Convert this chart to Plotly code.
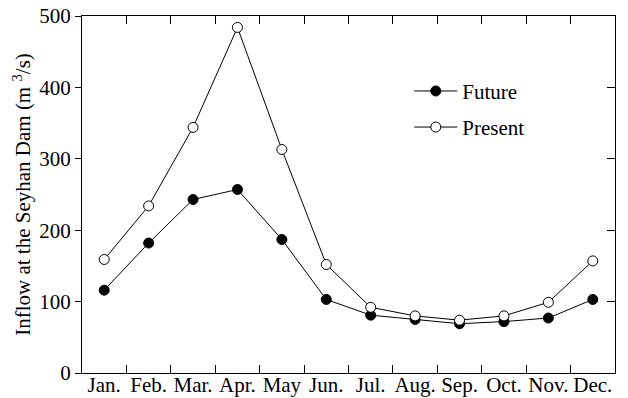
import plotly.graph_objects as go

months = ["Jan.", "Feb.", "Mar.", "Apr.", "May", "Jun.", "Jul.", "Aug.", "Sep.", "Oct.", "Nov.", "Dec."]
future = [116, 182, 243, 257, 187, 103, 81, 75, 69, 72, 77, 103]
present = [159, 234, 344, 484, 313, 152, 92, 80, 74, 80, 99, 157]
y_ticks = [0, 100, 200, 300, 400, 500]

FONT = "Liberation Serif, Times New Roman, serif"
FS = 21

fig = go.Figure()
fig.add_trace(go.Scatter(
    x=months, y=future, name="Future", mode="lines+markers", legend="legend",
    line=dict(color="black", width=1),
    marker=dict(symbol="circle", size=10, color="black", line=dict(color="black", width=1)),
))
fig.add_trace(go.Scatter(
    x=months, y=present, name="Present", mode="lines+markers", legend="legend2",
    line=dict(color="black", width=1),
    marker=dict(symbol="circle", size=10, color="white", line=dict(color="black", width=1)),
))
# invisible trace to anchor the right-side axis
fig.add_trace(go.Scatter(x=months, y=present, yaxis="y2", showlegend=False,
                         mode="lines", line=dict(width=0), hoverinfo="skip", opacity=0))

leg_common = dict(xanchor="left", yanchor="middle", bgcolor="rgba(0,0,0,0)",
                  font=dict(family=FONT, size=FS), borderwidth=0, itemwidth=43)

fig.update_layout(
    width=628, height=398,
    margin=dict(l=82, r=13, t=16, b=25),
    plot_bgcolor="white", paper_bgcolor="white",
    font=dict(family=FONT, size=FS, color="black"),
    showlegend=True,
    legend=dict(x=0.614, y=0.789, **leg_common),
    legend2=dict(x=0.614, y=0.688, **leg_common),
    xaxis=dict(
        type="category", categoryorder="array", categoryarray=months,
        range=[-0.5, 11.5], tickson="boundaries", tickangle=0,
        ticks="inside", ticklen=8, tickwidth=1, tickcolor="black",
        showline=True, linecolor="black", linewidth=1, mirror="ticks",
        showgrid=False, zeroline=False, automargin=False,
        ticklabelstandoff=-7,
        tickfont=dict(family=FONT, size=FS),
    ),
    yaxis=dict(
        range=[0, 500], tickvals=y_ticks, ticktext=[str(v) for v in y_ticks],
        ticks="outside", ticklen=6, tickwidth=1, tickcolor="black",
        showline=True, linecolor="black", linewidth=1, mirror=True,
        showgrid=False, zeroline=False, automargin=False,
        tickfont=dict(family=FONT, size=FS),
        title=dict(text="Inflow at the Seyhan Dam (m <sup>3</sup>/s)",
                   font=dict(family=FONT, size=FS), standoff=2),
    ),
    yaxis2=dict(
        range=[0, 500], tickvals=y_ticks, overlaying="y", side="right",
        ticks="inside", ticklen=8, tickwidth=1, tickcolor="black",
        showticklabels=False, showgrid=False, zeroline=False,
        showline=True, linecolor="black", linewidth=1,
    ),
)

fig.write_html("out.html", config={"displayModeBar": False},
               post_script="document.body.style.margin='0';document.body.style.padding='0';")
